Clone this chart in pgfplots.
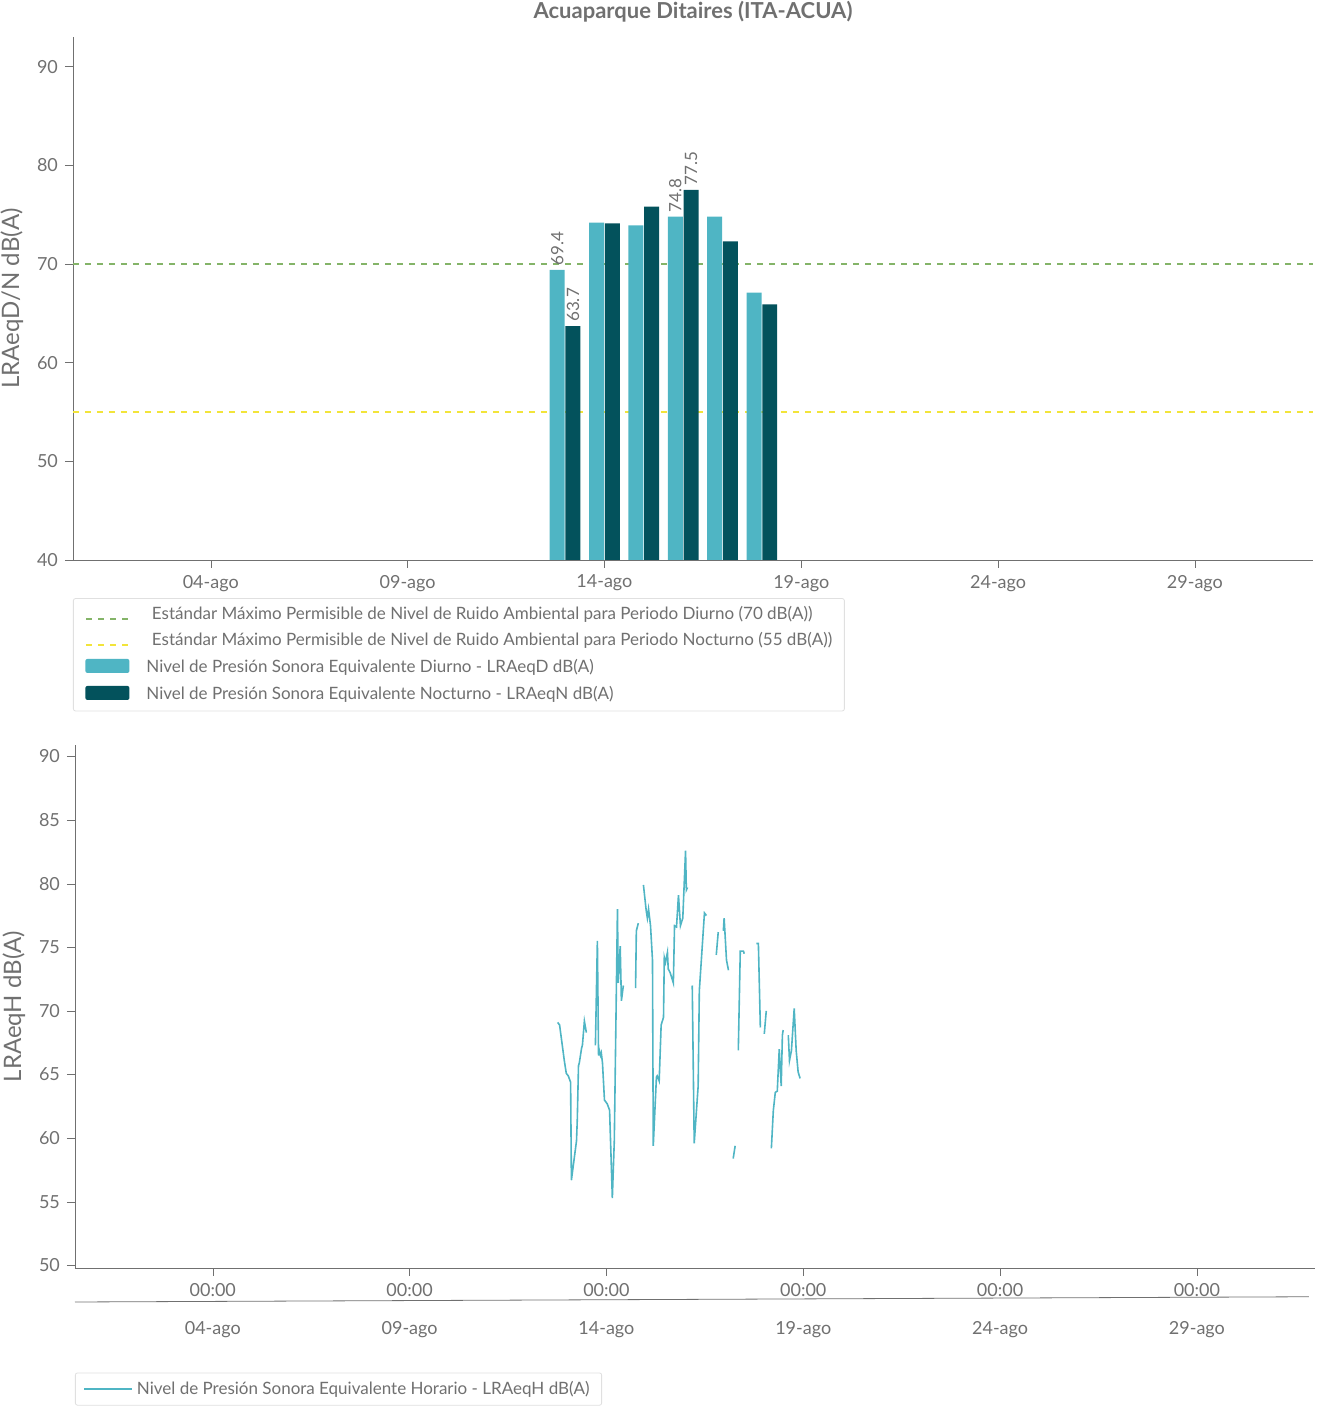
\documentclass[border=0pt]{standalone}
\usepackage{pgfplots}
\pgfplotsset{compat=1.18}
\usepackage{fontspec}
\setmainfont{Lato}
\definecolor{txt}{HTML}{707070}
\definecolor{lb}{HTML}{4FB5C4}
\definecolor{db}{HTML}{03525C}
\definecolor{gr}{HTML}{84B468}
\definecolor{ye}{HTML}{F2E43A}
\begin{document}
\begin{tikzpicture}[x=1pt,y=1pt]
\path[use as bounding box] (0,0) rectangle (663.5,710.5);
\pgfplotsset{every axis/.style={scale only axis, width=620pt, height=261.5pt,
  axis x line*=bottom, axis y line*=left, axis line style={txt, -},
  tick style={txt}, tick align=outside, major tick length=4pt,
  ticklabel style={font=\fontsize{9}{10}\selectfont, text=txt},
  /pgf/number format/assume math mode=true,
  xmin=0.5, xmax=32, xtick={4,9,14,19,24,29},
  legend cell align=left,
  legend style={draw=black!12, rounded corners=1pt, font=\fontsize{8.5}{11}\selectfont, text=txt, row sep=1pt, inner xsep=4pt}}}
\begin{axis}[at={(36.5pt,430.5pt)}, anchor=south west,
  ymin=40, ymax=93, ytick={40,50,...,90},
  xticklabels={04-ago,09-ago,14-ago,19-ago,24-ago,29-ago},
  ylabel={LRAeqD/N dB(A)}, ylabel style={font=\fontsize{12}{12}\selectfont, text=txt},
  title={\textbf{Acuaparque Ditaires (ITA-ACUA)}}, title style={font=\fontsize{11}{12}\selectfont, text=txt, yshift=-2pt},
  legend style={at={(0,-0.073)}, anchor=north west},
  legend image code/.code={}]
\addplot[gr, dashed, thick, domain=0.5:32, samples=2] coordinates {(0.5,70) (32,70)};
\addlegendentry{\tikz\draw[gr,dashed,thick](0,0)--(24pt,0);\quad Estándar Máximo Permisible de Nivel de Ruido Ambiental para Periodo Diurno (70 dB(A))}
\addplot[ye, dashed, thick] coordinates {(0.5,55) (32,55)};
\addlegendentry{\tikz\draw[ye,dashed,thick](0,0)--(24pt,0);\quad Estándar Máximo Permisible de Nivel de Ruido Ambiental para Periodo Nocturno (55 dB(A))}
\addplot[ybar, bar width=0.38, bar shift=-0.2, fill=lb, draw=none] coordinates {(13,69.4) (14,74.2) (15,73.9) (16,74.8) (17,74.8) (18,67.1)};
\addlegendentry{\tikz\fill[lb](0,-3.5pt) rectangle (22pt,3.5pt);\quad Nivel de Presión Sonora Equivalente Diurno - LRAeqD dB(A)}
\addplot[ybar, bar width=0.38, bar shift=0.2, fill=db, draw=none] coordinates {(13,63.7) (14,74.1) (15,75.8) (16,77.5) (17,72.3) (18,65.9)};
\addlegendentry{\tikz\fill[db](0,-3.5pt) rectangle (22pt,3.5pt);\quad Nivel de Presión Sonora Equivalente Nocturno - LRAeqN dB(A)}
\foreach \xx/\yy/\ll in {12.8/69.4/69.4, 13.2/63.7/63.7, 15.8/74.8/74.8, 16.2/77.5/77.5}
  {\edef\tmp{\noexpand\node[rotate=90, anchor=west, font=\noexpand\fontsize{8.5}{9}\noexpand\selectfont, text=txt, inner sep=2pt] at (axis cs:\xx,\yy) {\ll};}\tmp}
\end{axis}
\begin{axis}[at={(37.5pt,76.5pt)}, anchor=south west,
  ymin=49.8, ymax=90.9, ytick={50,55,...,90},
  xticklabels={00:00,00:00,00:00,00:00,00:00,00:00},
  ylabel={LRAeqH dB(A)}, ylabel style={font=\fontsize{12}{12}\selectfont, text=txt},
  unbounded coords=jump, clip=false,
  legend style={at={(0,-0.2)}, anchor=north west},
  legend image code/.code={\draw[lb, thick](0,0)--(24pt,0);}]
\addplot[lb, thick, mark=none] coordinates {
(12.76,69.1) (12.81,68.9) (12.93,66.1) (12.98,65.1) (13.03,64.9) (13.09,64.4) (13.11,56.7) (13.24,59.8) (13.26,61.5) (13.29,65.7) (13.31,65.9) (13.37,67.1) (13.39,67.3) (13.44,69.2) (13.49,68.3)
(13.6,nan)
(13.72,67.3) (13.77,75.5) (13.80,66.5) (13.82,66.9) (13.85,66.5) (13.87,66.7) (13.90,65.9) (13.95,63.0) (14.02,62.7) (14.08,62.2) (14.15,55.3) (14.20,59.8) (14.28,78.0) (14.30,72.2) (14.35,75.1) (14.38,70.8) (14.43,72.0)
(14.6,nan)
(14.74,71.8) (14.76,76.3) (14.81,76.9)
(14.88,nan)
(14.94,79.9) (15.01,77.9) (15.04,77.3) (15.07,78.0) (15.12,76.7) (15.17,74.0) (15.19,59.4) (15.27,64.8) (15.29,64.9) (15.34,64.5) (15.39,68.9) (15.45,69.5) (15.47,74.2) (15.50,73.8) (15.55,74.6) (15.57,73.3) (15.62,73.0) (15.70,72.2) (15.73,76.7) (15.78,76.6) (15.83,79.1) (15.88,76.7) (15.94,77.3) (16.01,82.6) (16.03,79.5) (16.06,79.7)
(16.12,nan)
(16.18,72.0) (16.23,59.6) (16.33,64.1) (16.36,71.6) (16.49,77.7) (16.54,77.5)
(16.65,nan)
(16.79,74.4) (16.84,76.2)
(16.9,nan)
(16.97,76.3) (16.99,77.3) (17.05,74.0) (17.10,73.2)
(17.15,nan)
(17.22,58.4) (17.27,59.4)
(17.31,nan)
(17.35,66.9) (17.40,74.7) (17.45,74.7) (17.48,74.7) (17.50,74.5)
(17.6,nan)
(17.81,75.3) (17.86,75.3) (17.91,68.7)
(17.96,nan)
(18.01,68.2) (18.06,70.0)
(18.12,nan)
(18.19,59.2) (18.24,62.2) (18.29,63.6) (18.34,63.7) (18.39,67.0) (18.44,64.1) (18.47,68.1) (18.49,68.5)
(18.55,nan)
(18.62,68.1) (18.65,66.1) (18.70,66.9) (18.77,70.2) (18.82,66.9) (18.87,65.2) (18.92,64.7)
};
\addlegendentry{Nivel de Presión Sonora Equivalente Horario - LRAeqH dB(A)}
\draw[txt] (rel axis cs:0,-0.065) -- (rel axis cs:0.995,-0.055);
\foreach \xx/\ll in {4/04-ago,9/09-ago,14/14-ago,19/19-ago,24/24-ago,29/29-ago}
  {\edef\tmp{\noexpand\node[font=\noexpand\fontsize{9}{10}\noexpand\selectfont, text=txt] at (axis cs:\xx,49.8) [yshift=-31pt] {\ll};}\tmp}
\end{axis}
\end{tikzpicture}
\end{document}
